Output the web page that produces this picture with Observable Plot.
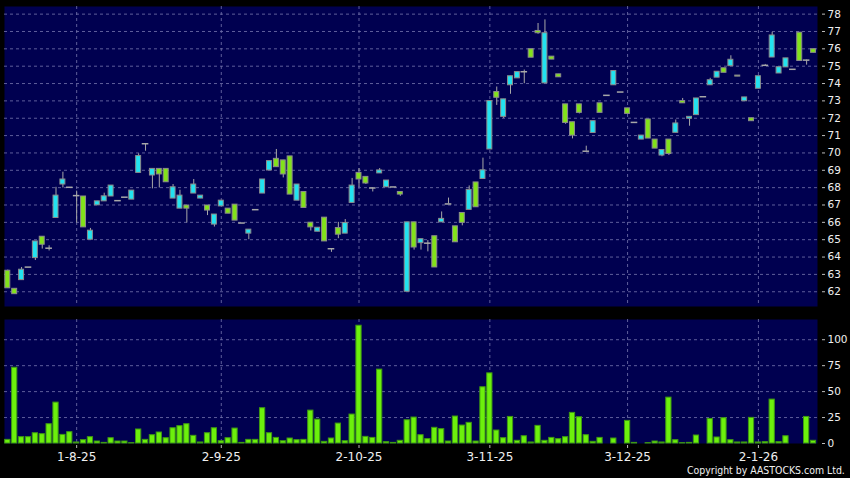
<!DOCTYPE html>
<html><head><meta charset="utf-8">
<script src="https://cdn.jsdelivr.net/npm/d3@7"></script>
<script src="https://cdn.jsdelivr.net/npm/@observablehq/plot@0.6"></script>
<style>
html,body{margin:0;padding:0;background:#000;}
#chart{position:relative;width:850px;height:478px;background:#000;overflow:hidden;font-family:"DejaVu Sans",sans-serif;}
#chart svg{display:block;}
#copy{position:absolute;left:687px;top:464px;font:10.5px/12px "DejaVu Sans",sans-serif;color:#f0f0f0;white-space:nowrap;transform-origin:0 0;}
</style></head><body><div id="chart"><div id="copy">Copyright by AASTOCKS.com Ltd.</div></div>
<script>
// ---- data ----
const opens = [
63.21,62.17,62.67,63.42,63.94,65.17,64.51,66.25,68.18,68.02,
67.54,67.49,65.0,66.98,67.21,67.49,67.25,67.45,67.31,68.85,
70.53,68.7,69.08,69.08,67.37,66.79,66.97,67.66,67.37,66.97,
65.87,66.92,66.79,67.02,65.96,65.35,66.73,67.66,68.99,69.66,
69.57,69.8,67.25,67.75,65.98,65.46,66.27,64.48,65.67,65.35,
67.12,68.85,68.62,67.98,68.82,68.02,68.04,67.75,62.0,66.0,
64.8,64.8,65.2,66.0,67.06,65.77,66.54,66.72,68.3,68.5,
70.2,73.51,72.08,73.9,74.3,74.68,75.98,77.03,74.01,75.55,
74.53,72.8,71.77,72.8,70.1,71.15,72.86,73.32,73.9,73.51,
72.57,71.76,70.77,71.93,70.77,69.85,70.77,71.16,72.99,71.97,
72.18,73.24,73.9,74.34,74.88,75.0,74.46,72.98,72.0,73.7,
75.05,75.5,74.58,74.93,74.82,76.93,75.35,75.98];
const closes = [
62.2,61.86,63.27,63.42,64.9,64.71,64.51,67.54,68.47,68.02,
67.54,65.71,65.52,67.21,67.5,68.12,67.25,67.45,67.83,69.82,
70.53,69.08,68.76,68.31,68.02,67.54,66.79,68.18,67.54,66.68,
66.45,67.25,66.5,66.1,65.96,65.58,66.73,68.47,69.53,69.18,
68.76,67.6,68.18,66.83,65.71,65.69,64.9,64.48,65.29,65.96,
68.12,68.47,68.24,67.98,68.99,68.41,68.04,67.6,66.0,64.55,
65.03,64.8,63.4,66.2,67.06,64.85,65.97,67.87,66.87,69.0,
72.99,73.18,73.09,74.42,74.66,74.68,75.49,76.9,76.9,75.38,
74.36,71.73,71.0,72.31,70.1,71.83,72.31,73.32,74.72,73.51,
72.25,71.76,71.0,70.83,70.25,70.17,69.94,71.7,72.86,72.08,
73.14,73.24,74.19,74.68,74.62,75.37,74.4,73.2,71.83,74.42,
75.05,76.77,74.94,75.45,74.82,75.3,75.35,75.77];
const highs = [
63.25,62.17,63.4,63.42,64.9,65.17,64.65,68.02,68.89,68.02,
67.8,67.49,65.65,67.21,67.68,68.12,67.25,67.45,67.83,69.95,
70.53,69.08,69.08,69.08,68.18,67.85,66.97,68.47,67.54,66.97,
66.45,67.25,66.79,67.02,65.96,65.58,66.73,68.47,69.53,70.2,
69.57,69.8,68.18,67.75,65.98,65.69,66.27,64.48,66.0,66.16,
68.53,69.1,68.62,67.98,69.1,68.41,68.04,67.75,66.0,66.0,
65.03,64.95,65.2,66.6,67.4,65.77,66.54,68.1,68.3,69.7,
72.99,73.8,73.09,74.42,74.66,74.78,75.98,77.46,77.67,75.55,
74.53,72.8,71.77,72.8,70.39,71.83,72.86,73.32,74.75,73.51,
72.57,71.76,71.0,71.93,70.77,70.17,70.77,71.9,73.14,72.08,
73.14,73.24,74.3,74.68,74.88,75.6,74.46,73.2,72.0,74.42,
75.1,76.95,74.94,75.45,74.82,76.93,75.35,75.98];
const lows = [
62.2,61.86,62.67,63.42,63.8,64.46,64.35,66.25,67.98,68.02,
65.96,65.71,65.0,66.98,67.21,67.49,67.25,67.45,67.31,68.85,
70.1,67.93,67.98,68.31,67.37,66.79,65.96,67.66,67.37,66.39,
65.73,66.92,66.5,66.1,65.96,65.0,66.73,67.66,68.99,69.18,
68.56,67.6,67.25,66.83,65.5,65.46,64.9,64.27,65.06,65.35,
67.12,68.02,68.18,67.75,68.82,68.02,68.04,67.5,62.0,64.4,
64.4,64.3,63.4,66.0,67.06,64.85,65.8,66.72,66.87,68.5,
70.2,72.74,71.99,73.38,74.3,73.99,75.49,76.84,74.01,75.38,
74.36,71.65,70.81,72.25,70.1,71.15,72.31,73.32,73.9,73.51,
72.25,71.76,70.77,70.83,70.25,69.78,69.85,71.16,72.86,71.54,
72.18,73.24,73.9,74.34,74.62,75.0,74.4,72.98,71.83,73.7,
75.05,75.5,74.58,74.93,74.82,75.3,75.06,75.77];
const volumes = [
3.5,73,6.1,6.1,9.9,9,18.6,39.4,8.3,10.9,
1,3.2,6.1,1.9,0.6,5.1,1.9,1.9,0.3,13.5,
3.5,8,10.6,5.1,14.7,16.7,18.6,7.4,1,9.9,
14.7,2.2,5.1,14.4,0.6,3.5,3.5,34,9.9,5.4,
2.2,4.8,3.2,3.5,31.7,23,1.6,4.8,19.2,2.2,
27.9,113.5,6.4,5.4,71.2,1.3,0.6,2.6,22.4,25,
8,4.2,15.1,13.8,1.9,26,17.3,19.9,1.9,54.2,
67.6,12.5,5.1,25.6,2.6,7,1,17,2.6,5.4,
4.2,6.1,29.5,25.3,8,1.6,5.4,0,4.8,0,
21.8,0.6,0,0.3,1.9,1,44.2,3.2,0.3,0.6,
7.7,0,23.7,5.8,24.4,3.2,1,1,24.7,1,
1.3,42.3,1.3,7,0,0,25.6,2.6];
const dateTickIndex = [10, 31, 51, 70, 90, 109];
const dateTickLabels = ["1-8-25", "2-9-25", "2-10-25", "3-11-25", "3-12-25", "2-1-26"];
const priceTicks = [62,63,64,65,66,67,68,69,70,71,72,73,74,75,76,77,78];
const volumeTicks = [0, 25, 50, 75, 100];

// ---- build ----
const candles = opens.map((o, i) => ({i, open: o, close: closes[i], high: highs[i], low: lows[i], vol: volumes[i]}));
const ups = candles.filter(d => d.close > d.open);
const downs = candles.filter(d => d.close < d.open);
const flats = candles.filter(d => d.close === d.open);

const W = 850, ML = 4, MR = 33;
const xDomain = [-0.48, 117.58];
const navy = "#000050";
const gridStroke = "#6e6ea8";
const cyan = "#22e2f0", green = "#82e21a", volGreen = "#6cf00c";
const wickColor = "#a8a8a8", bodyStroke = "#8c8c8c";
const font = "DejaVu Sans, sans-serif";
const hw = 0.36;

const price = Plot.plot({
  width: W, height: 312, marginTop: 6, marginBottom: 6, marginLeft: ML, marginRight: MR,
  style: {background: "transparent", color: "#f0f0f0", fontFamily: font, fontSize: "10.5px"},
  x: {domain: xDomain, axis: null},
  y: {domain: [61.15, 78.44], axis: null},
  marks: [
    Plot.frame({fill: navy, stroke: null}),
    Plot.gridY(priceTicks, {stroke: gridStroke, strokeOpacity: 0.85, strokeDasharray: "3,3"}),
    Plot.ruleX(dateTickIndex, {stroke: gridStroke, strokeOpacity: 0.85, strokeDasharray: "3,3"}),
    Plot.axisY(priceTicks, {anchor: "right", label: null, tickSize: 3, tickPadding: 3, dx: 4, stroke: "#bbb", fill: "#f0f0f0", fontSize: 10.5}),
    Plot.ruleX(candles, {x: "i", y1: "low", y2: "high", stroke: wickColor, strokeWidth: 1}),
    Plot.rect(ups, {x1: d => d.i - hw, x2: d => d.i + hw, y1: "open", y2: "close", fill: cyan, stroke: bodyStroke, strokeWidth: 1}),
    Plot.rect(downs, {x1: d => d.i - hw, x2: d => d.i + hw, y1: "open", y2: "close", fill: green, stroke: bodyStroke, strokeWidth: 1}),
    Plot.ruleY(flats, {y: "close", x1: d => d.i - 0.48, x2: d => d.i + 0.48, stroke: wickColor, strokeWidth: 1.5})
  ]
});

const vol = Plot.plot({
  width: W, height: 166, marginTop: 7, marginBottom: 35, marginLeft: ML, marginRight: MR,
  style: {background: "transparent", color: "#f0f0f0", fontFamily: font, fontSize: "10.5px"},
  x: {domain: xDomain, axis: null},
  y: {domain: [0, 119.5], axis: null},
  marks: [
    Plot.frame({fill: navy, stroke: null}),
    Plot.gridY(volumeTicks.filter(v => v > 0), {stroke: gridStroke, strokeOpacity: 0.85, strokeDasharray: "3,3"}),
    Plot.ruleX(dateTickIndex, {stroke: gridStroke, strokeOpacity: 0.85, strokeDasharray: "3,3"}),
    Plot.rect(candles, {x1: d => d.i - 0.38, x2: d => d.i + 0.38, y1: 0, y2: "vol", fill: volGreen, stroke: "#3f9a12", strokeWidth: 1}),
    Plot.axisY(volumeTicks, {anchor: "right", label: null, tickSize: 3, tickPadding: 3, dx: 4, stroke: "#bbb", fill: "#f0f0f0", fontSize: 10.5}),
    Plot.axisX(dateTickIndex, {anchor: "bottom", label: null, tickSize: 3, dy: 2, tickPadding: 4, stroke: "#bbb", fill: "#f0f0f0", fontSize: 12,
      tickFormat: d => dateTickLabels[dateTickIndex.indexOf(d)]})
  ]
});

const chart = document.getElementById("chart");
chart.insertBefore(vol, chart.firstChild);
chart.insertBefore(price, vol);

const copy = document.getElementById("copy");
copy.style.transform = `scaleX(${158 / copy.scrollWidth})`;
</script>
</body></html>
